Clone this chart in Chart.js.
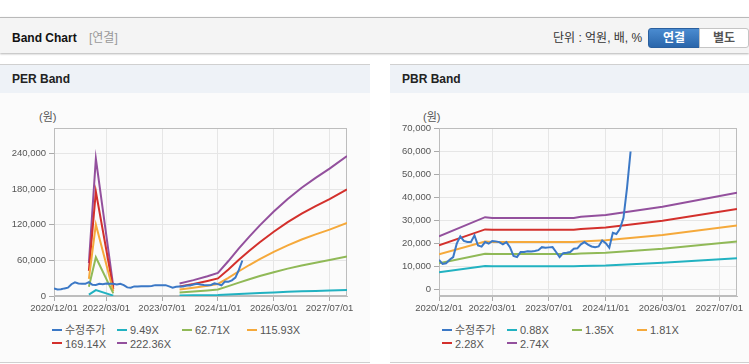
<!DOCTYPE html>
<html lang="ko">
<head>
<meta charset="utf-8">
<script src="https://cdn.jsdelivr.net/npm/chart.js@4.4.1/dist/chart.umd.min.js"></script>
<style>
body { margin:0; width:749px; height:364px; background:#fff; position:relative; overflow:hidden;
       font-family:'Liberation Sans','Noto Sans CJK KR',sans-serif; }
.top { position:absolute; left:0; top:17px; width:749px; height:35px; background:#f4f4f4;
       border-top:1px solid #b9b9b9; box-shadow:0 1px 2px rgba(0,0,0,0.3); }
.ttl { position:absolute; top:31px; left:12px; font-size:12px; line-height:14px; font-weight:bold; color:#111; }
.sub { position:absolute; top:31px; left:89px; font-size:12px; line-height:14px; color:#999; }
.unit { position:absolute; top:31px; left:553px; font-size:12px; line-height:14px; color:#333; }
.btn { position:absolute; top:28px; height:18px; font-size:12px; line-height:18px; font-weight:bold; text-align:center; }
.on { left:648px; width:50px; background:linear-gradient(#4a8bd0,#2a66ab); border:1px solid #2a5f9e;
      border-radius:3px 0 0 3px; color:#fff; }
.off { left:699px; width:48px; background:#fff; border:1px solid #c5c5c5; border-radius:0 3px 3px 0; color:#555; }
.panel { position:absolute; top:64px; height:297px; background:#fbfbfb;
         border-top:1px solid #d0d0d0; border-bottom:1px solid #d0d0d0; }
.ph { height:28px; background:#eef2f7; font-size:12px; font-weight:bold; line-height:28px; padding-left:12px; color:#222; }
.won { position:absolute; top:111px; font-size:11px; line-height:13px; color:#555; }
canvas { position:absolute; top:93px; }
.legend { position:absolute; top:324px; display:grid; grid-template-columns:65px 65px 65px 65px;
          font-size:11px; line-height:13.5px; color:#555; }
.legend div { white-space:nowrap; }
.legend i { display:inline-block; width:10px; height:2px; margin:0 3px 3px 0; vertical-align:middle; }
</style>
</head>
<body>
<div class="top"></div>
<div class="ttl">Band Chart</div>
<div class="sub">[연결]</div>
<div class="unit">단위 : 억원, 배, %</div>
<div class="btn on">연결</div>
<div class="btn off">별도</div>

<div class="panel" style="left:0;width:370px"><div class="ph">PER Band</div></div>
<div class="panel" style="left:390px;width:359px"><div class="ph">PBR Band</div></div>
<div class="won" style="left:39px">(원)</div>
<div class="won" style="left:423px">(원)</div>

<canvas id="perChart" width="370" height="225" style="left:0"></canvas>
<canvas id="pbrChart" width="359" height="225" style="left:390px"></canvas>
<div class="legend" id="perLegend" style="left:52px"></div>
<div class="legend" id="pbrLegend" style="left:442px"></div>

<script>
// months counted from 2020/12 (0) to 2027/12 (84)
const xTickMonths = [0, 15, 31, 47, 63, 79];
const xTickLabels = ['2020/12/01', '2022/03/01', '2023/07/01', '2024/11/01', '2026/03/01', '2027/07/01'];
const lastMonth = 84;

// 수정주가, monthly from 2020/12
const priceValues = [12800, 11000, 11300, 12800, 14000, 19800, 23000, 21000, 20500, 20500,
    23400, 19000, 18500, 20500, 19800, 21000, 20800, 20500, 19500, 20500,
    18300, 14500, 14000, 16200, 16200, 16500, 16400, 16600, 17000, 18300,
    18000, 18200, 18300, 16200, 14000, 15700, 15900, 16200, 17600, 17800,
    19500, 20500, 19400, 18600, 18300, 18600, 21200, 20000, 18000, 24500,
    24000, 26300, 31000, 44000, 59800];

// PER band (null = gap)
const perNames = ['9.49X', '62.71X', '115.93X', '169.14X', '222.36X'];
const perMonths = [10, 12, 17, 26, 36, 40, 44, 47, 50, 53, 56, 59, 63, 67, 71, 75, 79, 84];
const per949 = [2400, 9900, 700, null, 900, 1100, 1400, 1700, 2500, 3400, 4300, 5100, 6100, 7000, 7800, 8500, 9200, 10100];
const per6271 = [15700, 65200, 4400, null, 5900, 7500, 9400, 11000, 16600, 22600, 28200, 33600, 40100, 46100, 51400, 56100, 60500, 66500];
const per11593 = [29000, 120600, 8100, null, 10900, 13900, 17400, 20300, 30700, 41700, 52200, 62000, 74200, 85200, 95100, 103800, 111900, 123000];
const per16914 = [42300, 175900, 11800, null, 15900, 20300, 25400, 29600, 44800, 60900, 76100, 90500, 108300, 124300, 138700, 151400, 163200, 179500];
const per22236 = [55600, 231300, 15600, null, 20900, 26700, 33400, 38900, 58900, 80100, 100100, 119000, 142300, 163400, 182300, 199000, 214600, 235900];
const perYTicks = [0, 60000, 120000, 180000, 240000];

// PBR band
const pbrNames = ['0.88X', '1.35X', '1.81X', '2.28X', '2.74X'];
const pbrMonths = [0, 13, 15, 38, 40, 47, 63, 84];
const pbr088 = [7400, 10100, 10000, 10000, 10100, 10300, 11500, 13500];
const pbr135 = [11300, 15400, 15300, 15300, 15500, 15900, 17600, 20700];
const pbr181 = [15200, 20700, 20500, 20500, 20800, 21300, 23600, 27700];
const pbr228 = [19100, 26000, 25800, 25800, 26200, 26800, 29800, 34900];
const pbr274 = [23000, 31300, 31000, 31000, 31500, 32200, 35800, 41900];
const pbrYTicks = [0, 10000, 20000, 30000, 40000, 50000, 60000, 70000];

const colors = ['#3b78c6', '#22b2c1', '#90b957', '#f5a93b', '#d3302c', '#93509d'];

const plotBorder = {
    id: 'plotBorder',
    beforeDatasetsDraw(chart) {
        const a = chart.chartArea;
        const ctx = chart.ctx;
        ctx.save();
        ctx.strokeStyle = '#bdbdbd';
        ctx.lineWidth = 1;
        ctx.strokeRect(Math.round(a.left) + 0.5, Math.round(a.top) + 0.5,
            Math.round(a.width) - 1, Math.round(a.height) - 1);
        ctx.restore();
    }
};

function lineSet(label, xs, ys, color) {
    return {
        label: label,
        data: xs.map((x, k) => ({ x: x, y: ys[k] })),
        borderColor: color,
        backgroundColor: color,
        borderWidth: 2,
        pointRadius: 0,
        tension: 0
    };
}

function plotarBanda(canvasId, names, months, bands, yMin, yMax, yTicks, yWidth, padRight) {
    const priceMonths = priceValues.map((v, i) => i);
    const datasets = [lineSet('수정주가', priceMonths, priceValues, colors[0])];
    bands.forEach((b, k) => datasets.push(lineSet(names[k], months, b, colors[k + 1])));
    const tickFont = { family: "'Liberation Sans', sans-serif", size: 9.5 };
    return new Chart(document.getElementById(canvasId), {
        type: 'line',
        data: { datasets: datasets },
        options: {
            responsive: false,
            animation: false,
            events: [],
            layout: { padding: { top: 35, right: padRight, left: 0, bottom: 0 } },
            plugins: { legend: { display: false }, tooltip: { enabled: false } },
            scales: {
                x: {
                    type: 'linear',
                    min: 0,
                    max: lastMonth,
                    afterBuildTicks: s => { s.ticks = xTickMonths.map(v => ({ value: v })); },
                    afterFit: s => { s.height = 22; },
                    grid: { color: '#e6e6e6', tickColor: '#aaa', tickLength: 5 },
                    border: { color: '#bdbdbd' },
                    ticks: {
                        autoSkip: false, maxRotation: 0, padding: 2, color: '#555', font: tickFont,
                        callback: v => xTickLabels[xTickMonths.indexOf(v)]
                    }
                },
                y: {
                    min: yMin,
                    max: yMax,
                    afterBuildTicks: s => { s.ticks = yTicks.map(v => ({ value: v })); },
                    afterFit: s => { s.width = yWidth; },
                    grid: { color: '#e6e6e6', tickColor: '#aaa', tickLength: 5 },
                    border: { color: '#bdbdbd' },
                    ticks: {
                        padding: 3, color: '#555', font: tickFont,
                        callback: v => v.toLocaleString('en-US')
                    }
                }
            }
        },
        plugins: [plotBorder]
    });
}

function desenharLegenda(chart, boxId) {
    const box = document.getElementById(boxId);
    chart.data.datasets.forEach(ds => {
        const item = document.createElement('div');
        item.innerHTML = '<i style="background:' + ds.borderColor + '"></i>' + ds.label;
        box.appendChild(item);
    });
}

const perChart = plotarBanda('perChart', perNames, perMonths,
    [per949, per6271, per11593, per16914, per22236], 0, 283000, perYTicks, 54, 23);
const pbrChart = plotarBanda('pbrChart', pbrNames, pbrMonths,
    [pbr088, pbr135, pbr181, pbr228, pbr274], -2900, 70000, pbrYTicks, 49, 12);
desenharLegenda(perChart, 'perLegend');
desenharLegenda(pbrChart, 'pbrLegend');
</script>
</body>
</html>
